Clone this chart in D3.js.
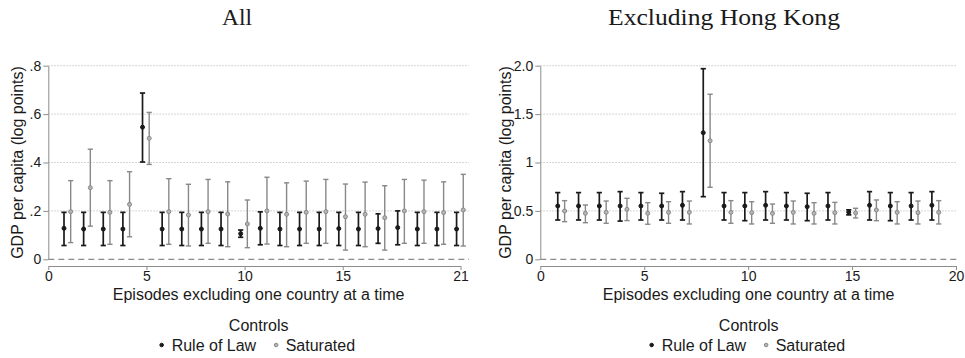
<!DOCTYPE html>
<html>
<head>
<meta charset="utf-8">
<script src="https://cdn.jsdelivr.net/npm/d3@7"></script>
<style>
body { margin: 0; background: #fff; }
text { font-family: "Liberation Sans", Arial, sans-serif; fill: #1a1a1a; }
.title { font-family: "Liberation Serif", "DejaVu Serif", serif; font-size: 23px; }
.axis text { font-size: 14px; fill: #1a1a1a; }
.axis path, .axis line { stroke: #8c8c8c; }
</style>
</head>
<body>
<div id="container"></div>
<script>
// ---- data: All ----
var episodesAll = [1, 2, 3, 4, 5, 6, 7, 8, 9, 10, 11, 12, 13, 14, 15, 16, 17, 18, 19, 20, 21];
var lawEstAll = [0.128, 0.125, 0.125, 0.125, 0.546, 0.125, 0.125, 0.125, 0.125, 0.106, 0.128, 0.125, 0.125, 0.125, 0.127, 0.125, 0.127, 0.131, 0.125, 0.125, 0.125];
var lawLoAll  = [0.057, 0.057, 0.057, 0.057, 0.402, 0.057, 0.057, 0.057, 0.057, 0.091, 0.060, 0.057, 0.057, 0.057, 0.057, 0.057, 0.066, 0.060, 0.057, 0.057, 0.057];
var lawHiAll  = [0.194, 0.194, 0.194, 0.194, 0.687, 0.194, 0.194, 0.194, 0.194, 0.121, 0.196, 0.194, 0.194, 0.194, 0.194, 0.194, 0.188, 0.200, 0.194, 0.194, 0.194];
var satEstAll = [0.197, 0.296, 0.194, 0.227, 0.500, 0.197, 0.183, 0.197, 0.187, 0.146, 0.200, 0.186, 0.194, 0.197, 0.176, 0.186, 0.172, 0.200, 0.197, 0.193, 0.204];
var satLoAll  = [0.069, 0.137, 0.062, 0.093, 0.392, 0.062, 0.055, 0.066, 0.052, 0.048, 0.063, 0.052, 0.066, 0.066, 0.038, 0.052, 0.038, 0.066, 0.066, 0.062, 0.055];
var satHiAll  = [0.325, 0.455, 0.325, 0.362, 0.607, 0.333, 0.310, 0.330, 0.320, 0.245, 0.339, 0.316, 0.323, 0.330, 0.311, 0.319, 0.304, 0.330, 0.327, 0.320, 0.351];

// ---- data: Excluding Hong Kong ----
var episodesHK = [1, 2, 3, 4, 5, 6, 7, 8, 9, 10, 11, 12, 13, 14, 15, 16, 17, 18, 19];
var lawEstHK = [0.551, 0.551, 0.551, 0.551, 0.551, 0.551, 0.558, 1.308, 0.551, 0.551, 0.558, 0.551, 0.544, 0.551, 0.487, 0.558, 0.551, 0.551, 0.558];
var lawLoHK  = [0.406, 0.406, 0.406, 0.395, 0.406, 0.406, 0.406, 0.647, 0.406, 0.399, 0.406, 0.406, 0.399, 0.406, 0.459, 0.406, 0.399, 0.406, 0.406];
var lawHiHK  = [0.689, 0.689, 0.689, 0.699, 0.689, 0.682, 0.699, 1.969, 0.689, 0.689, 0.699, 0.689, 0.682, 0.689, 0.511, 0.699, 0.689, 0.689, 0.699];
var satEstHK = [0.499, 0.475, 0.485, 0.516, 0.475, 0.485, 0.485, 1.225, 0.485, 0.482, 0.475, 0.485, 0.475, 0.482, 0.479, 0.510, 0.485, 0.482, 0.485];
var satLoHK  = [0.389, 0.378, 0.372, 0.400, 0.362, 0.372, 0.365, 0.744, 0.372, 0.365, 0.372, 0.365, 0.365, 0.365, 0.427, 0.399, 0.365, 0.365, 0.365];
var satHiHK  = [0.606, 0.561, 0.602, 0.630, 0.585, 0.595, 0.602, 1.705, 0.606, 0.595, 0.571, 0.602, 0.585, 0.588, 0.527, 0.613, 0.595, 0.602, 0.606];

// ---- tick labels ----
var yTicksAll = [0, 0.2, 0.4, 0.6, 0.8];
var yLabelsAll = ["0", ".2", ".4", ".6", ".8"];
var xTicksAll = [0, 5, 10, 15, 21];
var yTicksHK = [0, 0.5, 1, 1.5, 2];
var yLabelsHK = ["0", "0.5", "1", "1.5", "2.0"];
var xTicksHK = [0, 5, 10, 15, 20];

var W = 965, H = 358;
var lawColor = "#1a1a1a", satColor = "#888888";

var svg = d3.select("#container")
	.append("svg")
	.attr("width", W)
	.attr("height", H);

function makeRows(ep, est, lo, hi) {
	return ep.map(function(e, i) { return {ep: e, est: est[i], lo: lo[i], hi: hi[i]}; });
}

function drawPanel(p) {
	var x = d3.scaleLinear().domain(p.xDomain).range([p.left, p.axisRight]);
	var y = d3.scaleLinear().domain(p.yDomain).range([259.3, 65.7]);
	var g = svg.append("g");

	// grid lines
	g.selectAll("line.grid")
		.data(p.yTicks.slice(1))
		.enter()
		.append("line")
		.attr("x1", p.left).attr("x2", p.plotRight)
		.attr("y1", function(d) { return y(d); })
		.attr("y2", function(d) { return y(d); })
		.attr("stroke", "#c8c8c8")
		.attr("stroke-width", 1)
		.attr("stroke-dasharray", "1.5,1.5");

	// zero line
	g.append("line")
		.attr("x1", p.left).attr("x2", p.plotRight)
		.attr("y1", y(0)).attr("y2", y(0))
		.attr("stroke", "#8c8c8c")
		.attr("stroke-width", 1.2)
		.attr("stroke-dasharray", "6,4");

	// axes
	g.append("g")
		.attr("class", "axis")
		.attr("transform", "translate(" + p.left + ",0)")
		.call(d3.axisLeft(y).tickValues(p.yTicks).tickSize(5).tickSizeOuter(0)
			.tickFormat(function(d, i) { return p.yLabels[i]; }))
		.call(function(a) { a.selectAll("text").attr("dx", "1"); });

	g.append("g")
		.attr("class", "axis")
		.attr("transform", "translate(0,266)")
		.call(d3.axisBottom(x).tickValues(p.xTicks).tickSize(4).tickSizeOuter(0).tickFormat(d3.format("d")))
		.call(function(a) { a.selectAll("text").attr("dy", "0.6em"); });

	// axis titles
	g.append("text")
		.attr("x", (p.left + p.plotRight) / 2)
		.attr("y", 299.5)
		.attr("text-anchor", "middle")
		.style("font-size", "16px")
		.text("Episodes excluding one country at a time");

	g.append("text")
		.attr("transform", "translate(" + p.yTitleX + "," + y(p.yDomain[1] / 2) + ") rotate(-90)")
		.attr("text-anchor", "middle")
		.attr("dy", "0.35em")
		.style("font-size", "16px")
		.text("GDP per capita (log points)");

	// title
	g.append("text")
		.attr("class", "title")
		.attr("x", p.titleX)
		.attr("y", 25)
		.attr("text-anchor", "middle")
		.attr("textLength", p.titleLen)
		.attr("lengthAdjust", "spacingAndGlyphs")
		.text(p.title);

	// error bars
	var series = [
		{rows: makeRows(p.ep, p.lawEst, p.lawLo, p.lawHi), off: p.lawOff, color: lawColor, sw: 1.7, fill: lawColor},
		{rows: makeRows(p.ep, p.satEst, p.satLo, p.satHi), off: p.satOff, color: satColor, sw: 1.4, fill: "#b5b5b5"}
	];

	series.forEach(function(s) {
		var sg = g.append("g");
		var bars = sg.selectAll("g").data(s.rows).enter().append("g");
		bars.append("line")
			.attr("x1", function(d) { return x(d.ep + s.off); })
			.attr("x2", function(d) { return x(d.ep + s.off); })
			.attr("y1", function(d) { return y(d.lo); })
			.attr("y2", function(d) { return y(d.hi); })
			.attr("stroke", s.color).attr("stroke-width", s.sw);
		["lo", "hi"].forEach(function(k) {
			bars.append("line")
				.attr("x1", function(d) { return x(d.ep + s.off) - 2.6; })
				.attr("x2", function(d) { return x(d.ep + s.off) + 2.6; })
				.attr("y1", function(d) { return y(d[k]); })
				.attr("y2", function(d) { return y(d[k]); })
				.attr("stroke", s.color).attr("stroke-width", s.sw);
		});
		bars.append("circle")
			.attr("cx", function(d) { return x(d.ep + s.off); })
			.attr("cy", function(d) { return y(d.est); })
			.attr("r", 2)
			.attr("fill", s.fill)
			.attr("stroke", s.color)
			.attr("stroke-width", 1);
	});

	// legend
	var cx = (p.left + p.plotRight) / 2;
	g.append("text")
		.attr("x", cx).attr("y", 330.5)
		.attr("text-anchor", "middle")
		.style("font-size", "16px")
		.text("Controls");
	g.append("circle").attr("cx", cx - 97).attr("cy", 345).attr("r", 1.8)
		.attr("fill", lawColor).attr("stroke", lawColor);
	g.append("text").attr("x", cx - 87).attr("y", 351).style("font-size", "16px").text("Rule of Law");
	g.append("circle").attr("cx", cx + 17.5).attr("cy", 345).attr("r", 1.8)
		.attr("fill", "#b5b5b5").attr("stroke", satColor);
	g.append("text").attr("x", cx + 27).attr("y", 351).style("font-size", "16px").text("Saturated");
}

drawPanel({
	title: "All", titleX: 237, titleLen: 30, yTitleX: 17,
	left: 48.3, axisRight: 460.5, plotRight: 469,
	xDomain: [0, 21], xTicks: xTicksAll,
	yDomain: [0, 0.8], yTicks: yTicksAll, yLabels: yLabelsAll,
	ep: episodesAll, lawOff: -0.2, satOff: 0.14,
	lawEst: lawEstAll, lawLo: lawLoAll, lawHi: lawHiAll,
	satEst: satEstAll, satLo: satLoAll, satHi: satHiAll
});

drawPanel({
	title: "Excluding Hong Kong", titleX: 724, titleLen: 232, yTitleX: 505,
	left: 540.3, axisRight: 956, plotRight: 957,
	xDomain: [0, 20], xTicks: xTicksHK,
	yDomain: [0, 2], yTicks: yTicksHK, yLabels: yLabelsHK,
	ep: episodesHK, lawOff: -0.16, satOff: 0.17,
	lawEst: lawEstHK, lawLo: lawLoHK, lawHi: lawHiHK,
	satEst: satEstHK, satLo: satLoHK, satHi: satHiHK
});
</script>
</body>
</html>
